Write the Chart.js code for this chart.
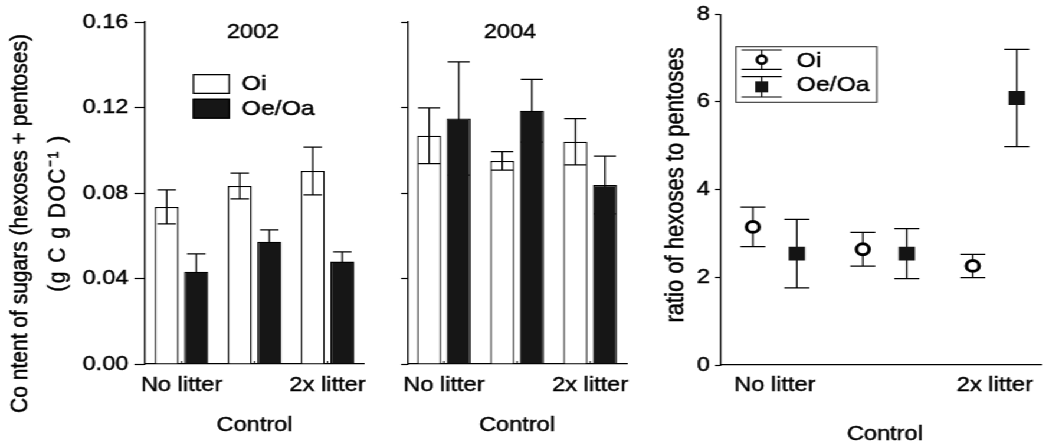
<!DOCTYPE html>
<html>
<head>
<meta charset="utf-8">
<script src="https://cdn.jsdelivr.net/npm/chart.js@4.4.1/dist/chart.umd.min.js"></script>
<style>
  html, body { margin: 0; padding: 0; background: #fff; overflow: hidden; width: 1052px; height: 445px; }
  /* the figure is laid out at 892px and widened to the full 1052px */
  #wrap { position: absolute; left: 0; top: 0; width: 892px; height: 445px; transform: scaleX(1.18); transform-origin: 0 0; }
  canvas { position: absolute; top: 0; }
</style>
</head>
<body>
<div id="wrap">
  <canvas id="c2002" width="320" height="445" style="left:0"></canvas>
  <canvas id="c2004" width="215" height="445" style="left:325px"></canvas>
  <canvas id="cRatio" width="347" height="445" style="left:545px"></canvas>
</div>
<script>
// ---- data ----------------------------------------------------------------
const treatments = ['No litter', 'Control', '2x litter'];
const horizons = ['Oi', 'Oe/Oa'];
const years = ['2002', '2004'];

const sugarTicks = [0, 0.04, 0.08, 0.12, 0.16];
const ratioTicks = [0, 2, 4, 6, 8];

// sugar content (g C g DOC-1), mean and error
const oi2002 = [0.0735, 0.0833, 0.0903];
const oiErr2002 = [0.0080, 0.0060, 0.0112];
const oe2002 = [0.0432, 0.0572, 0.0479];
const oeErr2002 = [0.0083, 0.0055, 0.0046];

const oi2004 = [0.1068, 0.0950, 0.1040];
const oiErr2004 = [0.0130, 0.0043, 0.0108];
const oe2004 = [0.1149, 0.1185, 0.0837];
const oeErr2004 = [0.0265, 0.0147, 0.0135];

// hexose : pentose ratio, mean and error
const oiRatio = [3.15, 2.64, 2.26];
const oiRatioErr = [0.45, 0.385, 0.265];
const oeRatio = [2.54, 2.54, 6.09];
const oeRatioErr = [0.78, 0.57, 1.11];

const sugarTitle = ['Co ntent of sugars (hexoses + pentoses)', '(g C g DOC\u207B\u00B9 )'];
const ratioTitle = 'ratio of hexoses to pentoses';

// ---- style ---------------------------------------------------------------
const FONT = '"Liberation Sans", Arial, Helvetica, sans-serif';
const INK = '#000';
const FILLS = ['#ffffff', '#161616'];
const TEXT_STROKE = 0.45;
Chart.defaults.font.family = FONT;
Chart.defaults.color = INK;

// the middle treatment label sits on a lower row
const stagger = (label, i) => (i === 1 ? ['', '', label] : label);

// filled text with a hairline outline, matching the tick label weight
function inkText(ctx, text, x, y) {
  ctx.lineWidth = TEXT_STROKE;
  ctx.strokeStyle = INK;
  ctx.strokeText(text, x, y);
  ctx.fillText(text, x, y);
}

// vertical error bars with caps, read from each dataset's `err` array;
// datasets flagged errUnder are drawn beneath their marks
function errorBars() {
  function draw(chart, o, under) {
    const { ctx } = chart;
    const y = chart.scales.y;
    ctx.save();
    ctx.strokeStyle = INK;
    ctx.lineWidth = o.lineWidth || 1.2;
    chart.data.datasets.forEach((ds, di) => {
      if (!!ds.errUnder !== under) return;
      chart.getDatasetMeta(di).data.forEach((el, i) => {
        const d = ds.data[i];
        const v = typeof d === 'object' ? d.y : d;
        const e = ds.err[i];
        const top = y.getPixelForValue(v + e);
        const bot = y.getPixelForValue(v - e);
        const half = o.capWidth ? o.capWidth / 2 : (el.width * o.capRatio) / 2;
        ctx.beginPath();
        ctx.moveTo(el.x, top); ctx.lineTo(el.x, bot);
        ctx.moveTo(el.x - half, top); ctx.lineTo(el.x + half, top);
        ctx.moveTo(el.x - half, bot); ctx.lineTo(el.x + half, bot);
        ctx.stroke();
      });
    });
    ctx.restore();
  }
  return {
    id: 'errorBars',
    beforeDatasetsDraw(chart, args, o) { draw(chart, o, true); },
    afterDatasetsDraw(chart, args, o) { draw(chart, o, false); }
  };
}

// short inward tick marks on the category axis
const innerTicks = {
  id: 'innerTicks',
  afterDraw(chart) {
    const { ctx } = chart;
    const x = chart.scales.x;
    const b = chart.chartArea.bottom;
    ctx.save();
    ctx.strokeStyle = INK;
    ctx.lineWidth = 1;
    x.ticks.forEach((t, i) => {
      const px = x.getPixelForTick(i);
      ctx.beginPath(); ctx.moveTo(px, b); ctx.lineTo(px, b - 3); ctx.stroke();
    });
    ctx.restore();
  }
};

// year heading inside the plot, and optional box legend
const sugarPanelText = {
  id: 'sugarPanelText',
  afterDraw(chart, args, o) {
    const { ctx, chartArea } = chart;
    ctx.save();
    ctx.fillStyle = INK;
    ctx.textAlign = 'center';
    ctx.textBaseline = 'middle';
    ctx.font = `20px ${FONT}`;
    inkText(ctx, o.year, chartArea.left + o.yearX, 32);
    if (o.legend) {
      const L = chartArea.left + 40.4;
      horizons.forEach((h, i) => {
        const top = 74 + i * 24.7;
        ctx.fillStyle = FILLS[i];
        ctx.fillRect(L, top, 31.6, 20);
        ctx.strokeStyle = INK;
        ctx.lineWidth = 1.3;
        ctx.strokeRect(L + 0.65, top + 0.65, 30.3, 18.7);
        ctx.fillStyle = INK;
        ctx.textAlign = 'left';
        ctx.font = `21px ${FONT}`;
        inkText(ctx, h, L + 41.5, top + 10.5);
      });
    }
    ctx.restore();
  }
};

// rotated axis titles: [text, x, y, font size, letter spacing]
function axisTitles(lines) {
  return {
    id: 'axisTitles',
    afterDraw(chart) {
      const { ctx } = chart;
      ctx.save();
      ctx.fillStyle = INK;
      ctx.textAlign = 'center';
      ctx.textBaseline = 'middle';
      lines.forEach(([text, x, y, size, spacing]) => {
        ctx.save();
        ctx.font = `${size}px ${FONT}`;
        ctx.translate(x, y);
        ctx.rotate(-Math.PI / 2);
        if (spacing) ctx.letterSpacing = spacing;
        inkText(ctx, text, 0, 0);
        ctx.restore();
      });
      ctx.restore();
    }
  };
}

const tickFont = { size: 20, lineHeight: 1 };
const tickInk = { textStrokeColor: INK, textStrokeWidth: TEXT_STROKE };

function sugarChart(id, year, oi, oiErr, oe, oeErr, opt) {
  return new Chart(document.getElementById(id), {
    type: 'bar',
    data: {
      labels: treatments,
      datasets: [
        { label: horizons[0], data: oi, err: oiErr, backgroundColor: FILLS[0], borderColor: INK, borderWidth: 1.3 },
        { label: horizons[1], data: oe, err: oeErr, errUnder: true, backgroundColor: FILLS[1], borderColor: INK, borderWidth: 1.3 }
      ]
    },
    options: {
      responsive: false,
      animation: false,
      events: [],
      layout: { padding: { top: 22, right: opt.padRight, bottom: 0, left: 0 } },
      datasets: { bar: { categoryPercentage: 0.81, barPercentage: 0.81 } },
      plugins: {
        legend: { display: false },
        tooltip: { enabled: false },
        errorBars: { capRatio: opt.capRatio, lineWidth: 1.25 },
        sugarPanelText: { year, yearX: opt.yearX, legend: opt.legend }
      },
      scales: {
        x: {
          z: 1,
          grid: { display: false },
          border: { color: INK, width: 1.3 },
          ticks: {
            ...tickInk,
            autoSkip: false, maxRotation: 0, padding: 3.5,
            font: { size: 20, lineHeight: 1.0 },
            callback(v, i) { return stagger(this.getLabelForValue(v), i); }
          },
          afterFit(s) { s.height = 81; }
        },
        y: {
          min: sugarTicks[0],
          max: sugarTicks[sugarTicks.length - 1],
          afterBuildTicks(s) { s.ticks = sugarTicks.map(v => ({ value: v })); },
          grid: { drawOnChartArea: false, tickLength: opt.tickLength, tickColor: INK, tickWidth: 1.2 },
          border: { color: INK, width: 1.3 },
          ticks: { ...tickInk, display: opt.showLabels, padding: 5, font: tickFont, callback: v => v.toFixed(2) },
          afterFit(s) { s.width = opt.axisWidth; }
        }
      }
    },
    plugins: [errorBars(), innerTicks, sugarPanelText].concat(opt.extra || [])
  });
}

sugarChart('c2002', years[0], oi2002, oiErr2002, oe2002, oeErr2002, {
  padRight: 11.5, axisWidth: 122.9, tickLength: 9, showLabels: true, capRatio: 0.77,
  yearX: 91.5, legend: true,
  extra: [axisTitles([[sugarTitle[0], 17, 223.5, 21, 0], [sugarTitle[1], 49.5, 213, 21, '1.5px']])]
});
sugarChart('c2004', years[1], oi2004, oiErr2004, oe2004, oeErr2004, {
  padRight: 8.9, axisWidth: 20.2, tickLength: 5.3, showLabels: false, capRatio: 0.92,
  yearX: 87, legend: false
});

// ---- ratio panel ---------------------------------------------------------
const DODGE = 0.2;
const toPoints = (vals, shift) => vals.map((v, i) => ({ x: i + 1 + shift, y: v }));

const ratioLegend = {
  id: 'ratioLegend',
  afterDraw(chart) {
    const { ctx, chartArea } = chart;
    const x0 = chartArea.left + 12.7;
    const y0 = 46.7;
    ctx.save();
    ctx.strokeStyle = '#333';
    ctx.lineWidth = 1.1;
    ctx.strokeRect(x0, y0, 119.3, 55.6);
    const cx = x0 + 21.8;
    const rows = [[50, 69.3, 61.5], [76.7, 97, 85.5]];
    rows.forEach(([a, b], i) => {
      ctx.strokeStyle = INK;
      ctx.lineWidth = 1.2;
      ctx.beginPath();
      ctx.moveTo(cx, a); ctx.lineTo(cx, b);
      ctx.moveTo(cx - 17, a); ctx.lineTo(cx + 17, a);
      ctx.moveTo(cx - 17, b); ctx.lineTo(cx + 17, b);
      ctx.stroke();
      const m = (a + b) / 2;
      if (i === 0) {
        ctx.beginPath();
        ctx.arc(cx, m, 4, 0, Math.PI * 2);
        ctx.fillStyle = '#fff';
        ctx.fill();
        ctx.lineWidth = 2.6;
        ctx.stroke();
      } else {
        ctx.fillStyle = '#141414';
        ctx.fillRect(cx - 5.5, m - 5.5, 11, 11);
      }
    });
    ctx.fillStyle = INK;
    ctx.font = `21px ${FONT}`;
    ctx.textAlign = 'left';
    ctx.textBaseline = 'middle';
    horizons.forEach((h, i) => inkText(ctx, h, x0 + 51.4, rows[i][2]));
    ctx.restore();
  }
};

new Chart(document.getElementById('cRatio'), {
  type: 'scatter',
  data: {
    datasets: [
      {
        label: horizons[0], data: toPoints(oiRatio, -DODGE), err: oiRatioErr, errUnder: true,
        pointStyle: 'circle', pointRadius: 5.4, pointBorderWidth: 3,
        pointBackgroundColor: '#fff', pointBorderColor: INK
      },
      {
        label: horizons[1], data: toPoints(oeRatio, DODGE), err: oeRatioErr, errUnder: true,
        pointStyle: 'rect', pointRadius: 9.8, pointBorderWidth: 0,
        pointBackgroundColor: '#141414', pointBorderColor: '#141414'
      }
    ]
  },
  options: {
    responsive: false,
    animation: false,
    events: [],
    layout: { padding: { top: 11, right: 1, bottom: 0, left: 0 } },
    plugins: {
      legend: { display: false },
      tooltip: { enabled: false },
      errorBars: { capWidth: 21.2, lineWidth: 1.25 }
    },
    scales: {
      x: {
        type: 'linear',
        min: 0.51,
        max: 3.42,
        afterBuildTicks(s) { s.ticks = treatments.map((_, i) => ({ value: i + 1 })); },
        grid: { display: false },
        border: { color: INK, width: 1.3 },
        ticks: {
          ...tickInk,
          padding: 0.5,
          font: { size: 20, lineHeight: 1.225 },
          callback: (v, i) => stagger(treatments[v - 1], v - 1)
        },
        afterFit(s) { s.height = 80; }
      },
      y: {
        min: ratioTicks[0],
        max: ratioTicks[ratioTicks.length - 1],
        afterBuildTicks(s) { s.ticks = ratioTicks.map(v => ({ value: v })); },
        grid: { drawOnChartArea: false, tickLength: 5, tickColor: INK, tickWidth: 1.2 },
        border: { color: INK, width: 1.3 },
        ticks: { ...tickInk, padding: 4.3, font: tickFont },
        afterFit(s) { s.width = 66; }
      }
    }
  },
  plugins: [errorBars(), ratioLegend, axisTitles([[ratioTitle, 27.5, 185, 22, 0]])]
});
</script>
</body>
</html>
